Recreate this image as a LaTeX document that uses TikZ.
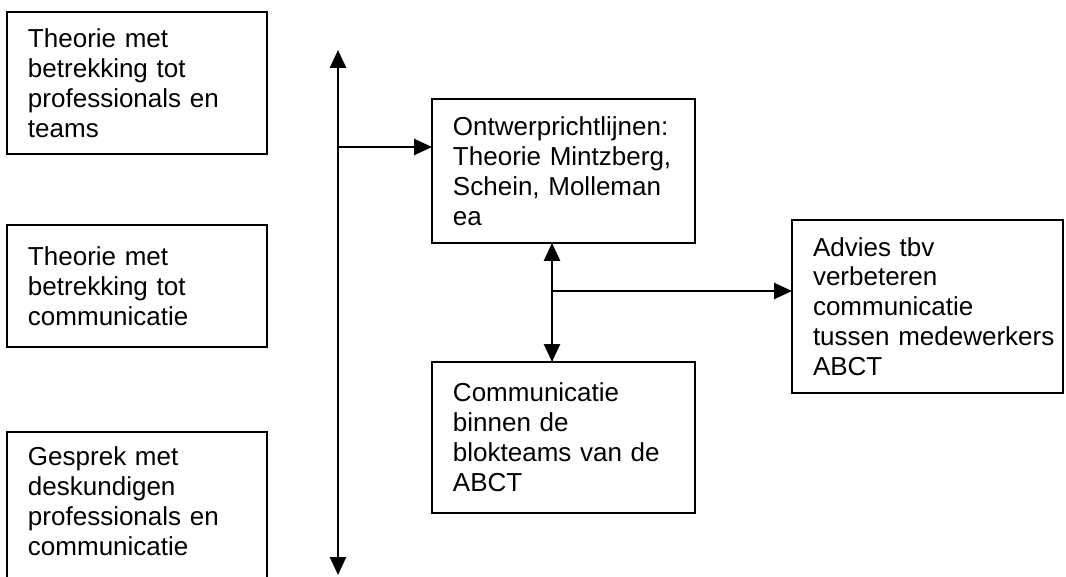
\documentclass[tikz,border=0pt]{standalone}
\usepackage{fontspec}
\setmainfont{Liberation Sans}
\usetikzlibrary{arrows.meta,positioning}

\begin{document}
\begin{tikzpicture}[x=0.02cm, y=-0.02cm,
  box/.style={draw, line width=1.4pt, anchor=north west, outer sep=0pt,
    inner xsep=0.42cm, inner ysep=0.3cm, align=left,
    font=\fontsize{14.8}{17}\selectfont},
  tip/.style={line width=1.5pt, -{Triangle[length=0.36cm, width=0.32cm]}},
  twotip/.style={line width=1.5pt,
    {Triangle[length=0.36cm, width=0.32cm]}-{Triangle[length=0.36cm, width=0.32cm]}}]

  \useasboundingbox (0,0) rectangle (1066,577);
  \clip (0,0) rectangle (1066,577);

  % sources on the left
  \node[box, text width=4.36cm, minimum height=2.84cm] (thprof) at (7,12)
    {Theorie met\\betrekking tot\\professionals en\\teams};
  \node[box, text width=4.36cm, minimum height=2.44cm] (thcomm) at (7,225)
    {Theorie met\\betrekking tot\\communicatie};
  \node[box, text width=4.36cm, text depth=2.6cm] (gesprek) at (7,432)
    {Gesprek met\\deskundigen\\professionals en\\communicatie};

  % middle and right
  \node[box, text width=4.42cm, minimum height=2.88cm] (ontwerp) at (432,99)
    {Ontwerprichtlijnen:\\\mbox{Theorie Mintzberg,}\\Schein, Molleman\\ea};
  \node[box, text width=4.42cm, minimum height=3.02cm] (blokteam) at (432,362)
    {Communicatie\\binnen de\\blokteams van de\\ABCT};
  \node[box, text width=4.58cm, minimum height=3.46cm] (advies) at (792,220)
    {Advies tbv\\verbeteren\\communicatie\\\mbox{tussen medewerkers}\\ABCT};

  \coordinate (vtop) at (338,50);
  \coordinate (vbot) at (338,575);
  \coordinate (vmid) at (338,147);
  \coordinate (split) at (552,291);

  \draw[twotip] (vtop) -- (vbot);
  \draw[tip] (vmid) -- (vmid -| ontwerp.west);
  \draw[twotip] (split |- ontwerp.south) -- (split |- blokteam.north);
  \draw[tip] (split) -- (split -| advies.west);
\end{tikzpicture}
\end{document}
